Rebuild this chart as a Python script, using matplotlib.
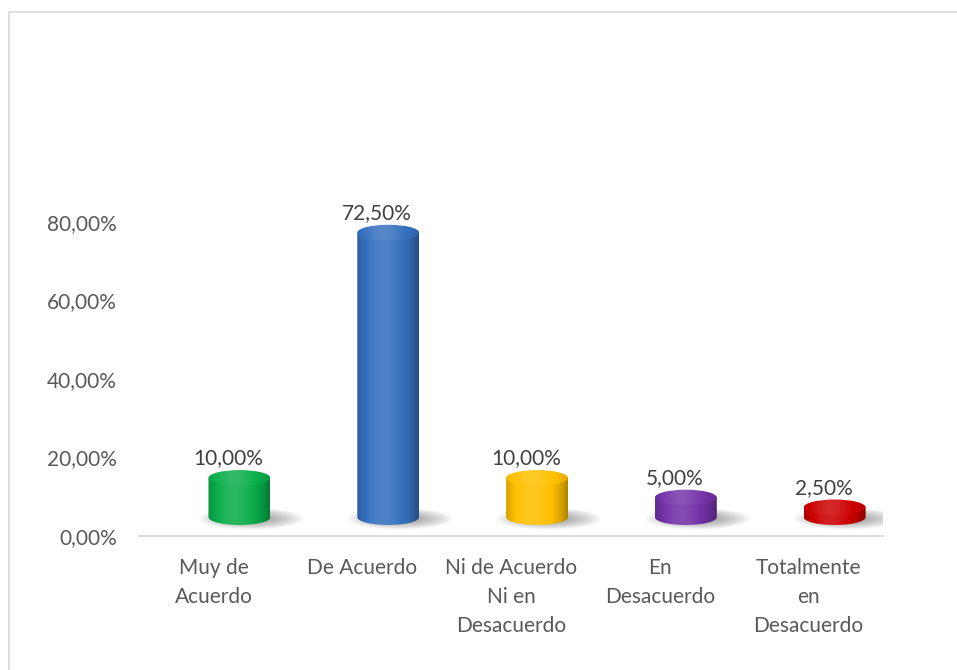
import matplotlib

matplotlib.use("Agg")
import matplotlib.pyplot as plt  # noqa: E402
import numpy as np
from matplotlib.colors import to_rgb
from matplotlib.patches import Ellipse, PathPatch, Rectangle
from matplotlib.path import Path

categories = [
    "Muy de\nAcuerdo",
    "De Acuerdo",
    "Ni de Acuerdo\nNi en\nDesacuerdo",
    "En\nDesacuerdo",
    "Totalmente\nen\nDesacuerdo",
]
values = [10.0, 72.5, 10.0, 5.0, 2.5]
colors = ["#0AAE4A", "#3671BF", "#FFC000", "#7432A8", "#CC0000"]
yticks = [0, 20, 40, 60, 80]

FLOOR = 4.8     # cylinders stand on the back floor, a bit above the axis line
SHIFT = 0.175   # perspective shift of the cylinders to the right
HALF_W = 0.208
RY = 2.0


def pct(v):
    return f"{v:.2f}%".replace(".", ",")


def gradient(color, n=200, light=0.12, dark=0.32):
    rgb = np.array(to_rgb(color))
    t = np.linspace(0, 1, n)
    amt = light * np.exp(-((t - 0.42) / 0.28) ** 2) - dark * np.clip(np.abs(t - 0.45) / 0.55, 0, 1) ** 3
    out = np.empty((1, n, 3))
    for k, a in enumerate(amt):
        out[0, k] = rgb + (1 - rgb) * a if a >= 0 else rgb * (1 + a)
    return np.clip(out, 0, 1)


def cylinder(ax, x, v, color):
    y0, y1 = FLOOR, FLOOR + v

    # soft shadow on the floor, thrown to the right
    for k in range(14):
        s = 1 - k / 14
        ax.add_patch(Ellipse((x + 0.08, y0 - 0.4), 2 * 0.30 * s + 0.1, 2 * 2.5 * s + 0.4,
                             facecolor="#5f5f5f", edgecolor="none", alpha=0.055, zorder=2))

    th = np.linspace(np.pi, 2 * np.pi, 60)
    verts = [(x - HALF_W, y1)] + list(zip(x + HALF_W * np.cos(th), y0 + RY * np.sin(th)))
    verts += [(x + HALF_W, y1), (x - HALF_W, y1)]
    codes = [Path.MOVETO] + [Path.LINETO] * (len(verts) - 2) + [Path.CLOSEPOLY]
    body = PathPatch(Path(verts, codes), facecolor="none", edgecolor="none")
    ax.add_patch(body)
    im = ax.imshow(gradient(color), extent=(x - HALF_W, x + HALF_W, y0 - RY, y1),
                   aspect="auto", interpolation="bicubic", zorder=3)
    im.set_clip_path(body)

    top = Ellipse((x, y1), 2 * HALF_W, 2 * RY, facecolor="none", edgecolor="none")
    ax.add_patch(top)
    im2 = ax.imshow(gradient(color, light=0.16, dark=0.12), extent=(x - HALF_W, x + HALF_W, y1 - RY, y1 + RY),
                    aspect="auto", interpolation="bicubic", zorder=4)
    im2.set_clip_path(top)


plt.rcParams["font.family"] = ["Lato", "DejaVu Sans"]
plt.rcParams["font.size"] = 15

fig = plt.figure(figsize=(9.57, 6.70), dpi=100)
ax = fig.add_axes([139 / 957, 0.2, 744 / 957, 0.5858])

for i, (v, c) in enumerate(zip(values, colors)):
    cylinder(ax, i + SHIFT, v, c)
    ax.text(i + 0.10, FLOOR + v + RY + 3.0, pct(v), ha="center", va="center",
            color="#404040", zorder=5)

ax.set_xlim(-0.5, len(values) - 0.5)
ax.set_ylim(0, 100)
ax.set_yticks(yticks)
ax.set_yticklabels([pct(t) for t in yticks], color="#595959")
ax.set_xticks(range(len(categories)))
ax.set_xticklabels(categories, color="#595959", linespacing=1.55)
ax.tick_params(axis="y", length=0, pad=16)
ax.tick_params(axis="x", length=0, pad=16)
for side in ("left", "right", "top"):
    ax.spines[side].set_visible(False)
ax.spines["bottom"].set_color("#D9D9D9")
ax.spines["bottom"].set_linewidth(1.3)

fig.patches.append(Rectangle((9 / 957, -0.1), 1.2, 1 - 12 / 670 + 0.1, transform=fig.transFigure,
                             fill=False, edgecolor="#D9D9D9", linewidth=1.2))

fig.savefig("out.png", dpi=100)
